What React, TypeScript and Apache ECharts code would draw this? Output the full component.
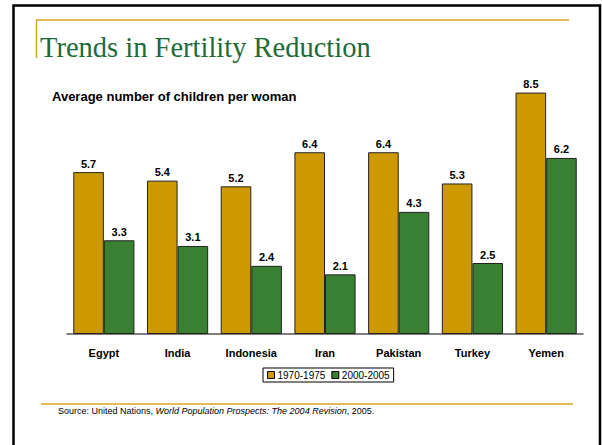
import React, { useEffect, useRef } from "react";
import * as echarts from "echarts";

// Average number of children per woman, by country and period
const countries = ["Egypt", "India", "Indonesia", "Iran", "Pakistan", "Turkey", "Yemen"];
const period1Label = "1970-1975";
const period2Label = "2000-2005";
const period1Values = [5.7, 5.4, 5.2, 6.4, 6.4, 5.3, 8.5];
const period2Values = [3.3, 3.1, 2.4, 2.1, 4.3, 2.5, 6.2];

const GOLD = "#CC9900";
const GREEN = "#3A8033";
const ACCENT = "#D9A51C";

export default function App() {
  const ref = useRef<HTMLDivElement>(null);

  useEffect(() => {
    if (!ref.current) return;
    const chart = echarts.init(ref.current, null, { renderer: "svg" });

    const valueLabel = {
      show: true,
      position: "top" as const,
      distance: 3,
      fontFamily: "Liberation Sans, Arial, sans-serif",
      fontWeight: "bold" as const,
      fontSize: 11,
      color: "#000",
    };

    chart.setOption({
      animation: false,
      backgroundColor: "#fff",
      grid: { left: 67, right: 19, top: 78.4, bottom: 111, containLabel: false },
      xAxis: {
        type: "category",
        data: countries,
        axisLine: { show: true, lineStyle: { color: "#555", width: 1.5 } },
        axisTick: { show: false },
        axisLabel: {
          margin: 13,
          fontFamily: "Liberation Sans, Arial, sans-serif",
          fontWeight: "bold",
          fontSize: 11,
          color: "#000",
        },
      },
      yAxis: {
        type: "value",
        min: 0,
        max: 9,
        show: false,
        splitLine: { show: false },
      },
      legend: {
        left: 263,
        top: 368,
        padding: [2, 4, 2, 4],
        itemGap: 6,
        itemWidth: 7,
        itemHeight: 7,
        icon: "rect",
        borderColor: "#000",
        borderWidth: 1,
        textStyle: {
          fontFamily: "Liberation Sans, Arial, sans-serif",
          fontSize: 10,
          color: "#000",
          padding: [0, 0, 0, -2],
        },
        data: [
          { name: period1Label, itemStyle: { color: GOLD, borderColor: "#000", borderWidth: 1 } },
          { name: period2Label, itemStyle: { color: GREEN, borderColor: "#000", borderWidth: 1 } },
        ],
      },
      series: [
        {
          name: period1Label,
          type: "bar",
          data: period1Values,
          barGap: "0%",
          barCategoryGap: "17%",
          itemStyle: { color: GOLD, borderColor: "#222", borderWidth: 1 },
          label: { ...valueLabel },
        },
        {
          name: period2Label,
          type: "bar",
          data: period2Values,
          barGap: "0%",
          barCategoryGap: "17%",
          itemStyle: { color: GREEN, borderColor: "#222", borderWidth: 1 },
          label: { ...valueLabel },
        },
      ],
      graphic: [
        // slide frame
        {
          type: "rect",
          shape: { x: 13.5, y: 5.5, width: 586.5, height: 470 },
          style: { fill: "none", stroke: "#000", lineWidth: 2.5 },
          silent: true,
        },
        // accent rules
        {
          type: "line",
          shape: { x1: 36, y1: 20, x2: 569, y2: 20 },
          style: { stroke: ACCENT, lineWidth: 1.5 },
        },
        {
          type: "line",
          shape: { x1: 36.5, y1: 20, x2: 36.5, y2: 58 },
          style: { stroke: ACCENT, lineWidth: 1.5 },
        },
        {
          type: "line",
          shape: { x1: 41, y1: 404, x2: 573, y2: 404 },
          style: { stroke: ACCENT, lineWidth: 1.5 },
        },
        {
          type: "text",
          left: 40,
          top: 33,
          style: {
            text: "Trends in Fertility Reduction",
            fontFamily: "Liberation Serif, Times New Roman, serif",
            fontSize: 28.5,
            fill: "#1E6B3A",
          },
        },
        {
          type: "text",
          left: 52,
          top: 90,
          style: {
            text: "Average number of children per woman",
            fontFamily: "Liberation Sans, Arial, sans-serif",
            fontWeight: "bold",
            fontSize: 13,
            fill: "#000",
          },
        },
        {
          type: "text",
          left: 58,
          top: 406,
          style: {
            text: "Source: United Nations, {i|World Population Prospects: The 2004 Revision}, 2005.",
            fontFamily: "Liberation Sans, Arial, sans-serif",
            fontSize: 9,
            fill: "#000",
            rich: {
              i: {
                fontStyle: "italic",
                fontFamily: "Liberation Sans, Arial, sans-serif",
                fontSize: 9,
                fill: "#000",
              },
            },
          },
        },
      ],
    });

    return () => chart.dispose();
  }, []);

  return (
    <div
      ref={ref}
      style={{ position: "fixed", left: 0, top: 0, width: 602, height: 445 }}
    />
  );
}
